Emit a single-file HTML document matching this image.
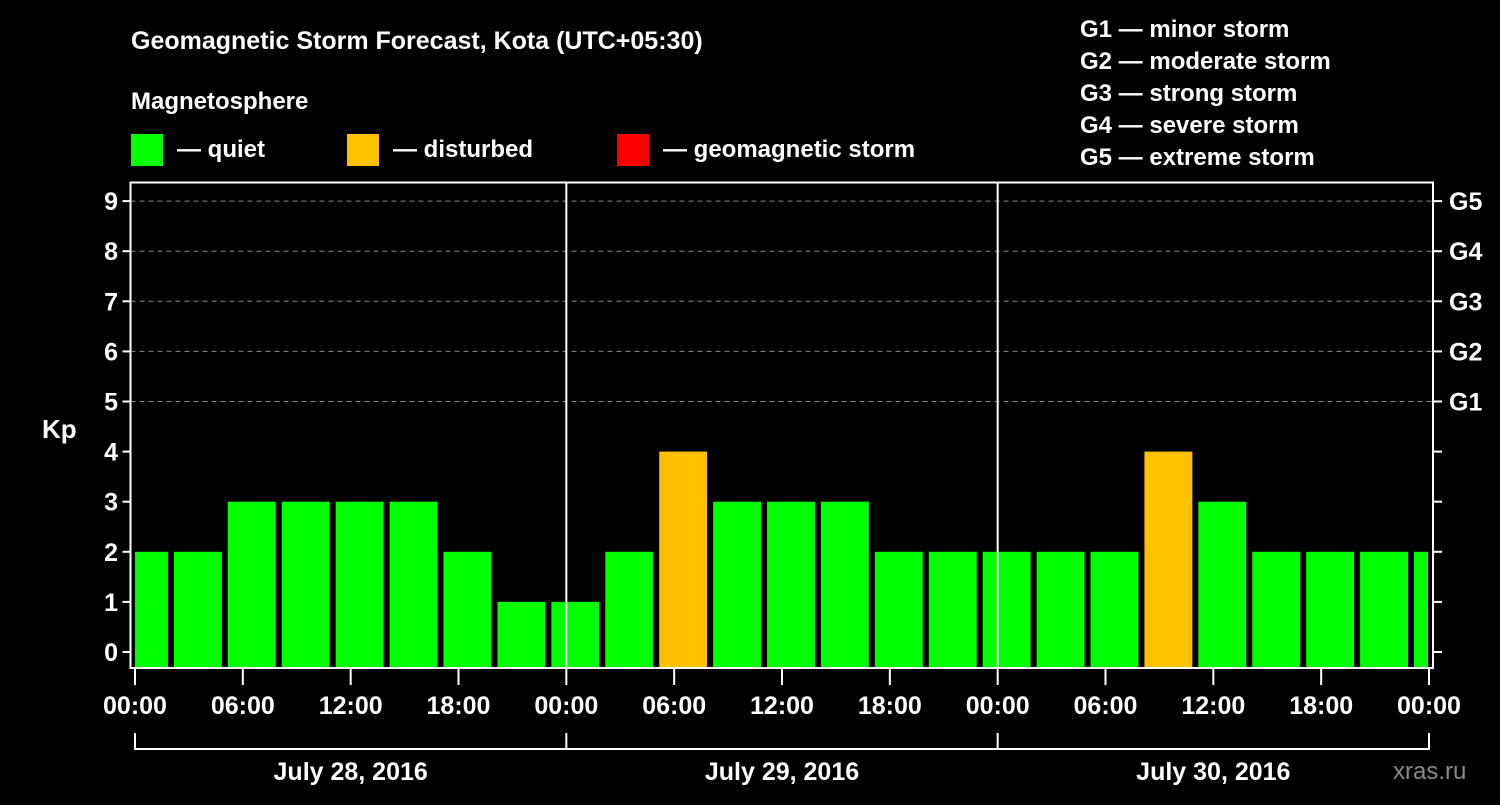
<!DOCTYPE html>
<html><head><meta charset="utf-8"><style>
body{margin:0;background:#000;}
svg text{font-family:"Liberation Sans",Arial,sans-serif;font-weight:bold;fill:#fff;}
</style></head><body>
<svg id="c" width="1500" height="800" xmlns="http://www.w3.org/2000/svg">
<rect width="1500" height="800" fill="#000"/>
<text x="131" y="49" font-size="25">Geomagnetic Storm Forecast, Kota (UTC+05:30)</text>
<text x="131" y="109" font-size="24">Magnetosphere</text>
<rect x="131" y="134" width="32" height="32" fill="#00ff00"/>
<text x="177" y="157" font-size="24">— quiet</text>
<rect x="347" y="134" width="32" height="32" fill="#ffc000"/>
<text x="393" y="157" font-size="24">— disturbed</text>
<rect x="617" y="134" width="32" height="32" fill="#ff0000"/>
<text x="663" y="157" font-size="24">— geomagnetic storm</text>
<g font-size="24">
<text x="1080" y="37">G1 — minor storm</text>
<text x="1080" y="69">G2 — moderate storm</text>
<text x="1080" y="101">G3 — strong storm</text>
<text x="1080" y="133">G4 — severe storm</text>
<text x="1080" y="165">G5 — extreme storm</text>
</g>
<g id="grid"></g><g id="bars"></g><g id="axes"></g>
<text x="42" y="438" font-size="26">Kp</text>
<text x="1393" y="779" font-size="24" fill="#888" style="fill:#8a8a8a;font-weight:normal">xras.ru</text>
</svg>
<script>
const kpValues=[2,2,3,3,3,3,2,1,1,2,4,3,3,3,2,2,2,2,2,4,3,2,2,2,2];
const barStartHours=[-1,2,5,8,11,14,17,20,23,26,29,32,35,38,41,44,47,50,53,56,59,62,65,68,71];
const xTickLabels=["00:00","06:00","12:00","18:00","00:00","06:00","12:00","18:00","00:00","06:00","12:00","18:00","00:00"];
const dayLabels=["July 28, 2016","July 29, 2016","July 30, 2016"];
const yTicks=[0,1,2,3,4,5,6,7,8,9];
const gLabels={5:"G1",6:"G2",7:"G3",8:"G4",9:"G5"};
const NS="http://www.w3.org/2000/svg";
const X0=135,X1=1429,L=130.5,R=1433,T=182.5,B=668;
const x=h=>X0+(X1-X0)*h/72;
const y=v=>652-v*50.1;
function mk(tag,at,parent){const e=document.createElementNS(NS,tag);for(const k in at)e.setAttribute(k,at[k]);parent.appendChild(e);return e;}
const grid=document.getElementById('grid'),bars=document.getElementById('bars'),axes=document.getElementById('axes');
yTicks.forEach(v=>{if(v>=5){const g=mk('line',{x1:L,x2:R,y1:y(v),y2:y(v),stroke:'#888','stroke-dasharray':'5,4','stroke-width':1},grid);}});
kpValues.forEach((v,i)=>{let a=x(barStartHours[i])+3,b=x(barStartHours[i]+3)-3;a=Math.max(a,X0);b=Math.min(b,X1-1);
const r=mk('rect',{x:a,y:y(v),width:b-a,height:B-y(v),fill:v>=5?'#ff0000':v>=4?'#ffc000':'#00ff00'},bars);

});
mk('rect',{x:L,y:T,width:R-L,height:B-T,fill:'none',stroke:'#fff','stroke-width':2},axes);
[24,48].forEach(h=>{mk('line',{x1:x(h),x2:x(h),y1:T,y2:B,stroke:'#fff','stroke-width':2},axes);});
yTicks.forEach(v=>{mk('line',{x1:L-8,x2:L,y1:y(v),y2:y(v),stroke:'#fff','stroke-width':2},axes);
mk('line',{x1:R,x2:R+9,y1:y(v),y2:y(v),stroke:'#fff','stroke-width':2},axes);
const t=mk('text',{x:118,y:y(v)+9,'font-size':25,'text-anchor':'end'},axes);t.textContent=v;

if(gLabels[v]){const g=mk('text',{x:1449,y:y(v)+9,'font-size':25},axes);g.textContent=gLabels[v];
}});
xTickLabels.forEach((s,i)=>{const xx=x(i*6);mk('line',{x1:xx,x2:xx,y1:B,y2:B+17,stroke:'#fff','stroke-width':2},axes);
const t=mk('text',{x:xx,y:714,'font-size':25,'text-anchor':'middle'},axes);t.textContent=s;
});
mk('line',{x1:X0,x2:X1,y1:749,y2:749,stroke:'#fff','stroke-width':2},axes);
[0,24,48,72].forEach(h=>mk('line',{x1:x(h),x2:x(h),y1:733,y2:750,stroke:'#fff','stroke-width':2},axes));
dayLabels.forEach((s,i)=>{const t=mk('text',{x:x(i*24+12),y:780,'font-size':25,'text-anchor':'middle'},axes);t.textContent=s;
});
</script>
</body></html>
